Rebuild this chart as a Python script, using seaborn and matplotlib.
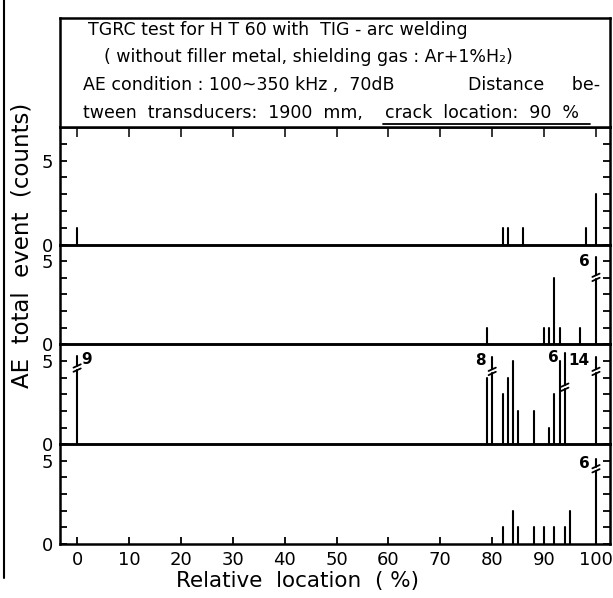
import matplotlib
matplotlib.use("Agg")
import matplotlib.pyplot as plt
import numpy as np
import pandas as pd
import seaborn as sns

# ---------------- data ----------------
loc_1 = [0, 82, 83, 86, 98, 100]
cnt_1 = [1, 1, 1, 1, 1, 3]
loc_2 = [79, 90, 91, 92, 93, 97, 100]
cnt_2 = [1, 1, 1, 4, 1, 1, 6]
loc_3 = [0, 79, 80, 82, 83, 84, 85, 88, 91, 92, 93, 94, 100]
cnt_3 = [9, 4, 8, 3, 4, 5, 2, 2, 1, 3, 5, 6, 14]
loc_4 = [82, 84, 85, 88, 90, 92, 94, 95, 100]
cnt_4 = [1, 2, 1, 1, 1, 1, 1, 2, 6]

x_ticks = [0, 10, 20, 30, 40, 50, 60, 70, 80, 90, 100]
y_major = [0, 5]

title_1 = "TGRC test for H T 60 with  TIG - arc welding"
title_2 = "( without filler metal, shielding gas : Ar+1%H₂)"
title_3a = "AE condition : 100~350 kHz ,  70dB"
title_3b = "Distance     be-"
title_4a = "tween  transducers:  1900  mm, "
title_4b = "crack  location:  90  %"
x_label = "Relative  location  ( %)"
y_label = "AE  total  event  (counts)"

# --------------- style ----------------
sns.set_theme(style="ticks")
plt.rcParams['font.family'] = ['DejaVu Sans']
plt.rcParams['text.color'] = 'black'

W, H = 613, 598
fig = plt.figure(figsize=(W / 100, H / 100), dpi=100)

def fx(px):
    return px / W

def fy(py):
    return 1 - py / H

left_px, right_px = 60, 610
panel_px = [(127, 244.5), (244.5, 344.3), (344.3, 444.3), (444.3, 543.7)]
ylims = [7.0, 5.9, 5.9, 5.9]
panels = [(loc_1, cnt_1), (loc_2, cnt_2), (loc_3, cnt_3), (loc_4, cnt_4)]

# break styling for counts exceeding the panel: (break level, top, label side)
break_style = {
    (1, 100): (3.9, 5.25, 'l'),
    (2, 0): (4.45, 5.3, 'r'),
    (2, 80): (4.25, 5.25, 'l'),
    (2, 94): (3.3, 5.45, 'l'),
    (2, 100): (4.25, 5.25, 'l'),
    (3, 100): (4.4, 5.1, 'l'),
}
gap = 0.25
XMIN, XMAX = -3.3, 102.7

for i, ((locs, cnts), (t, b)) in enumerate(zip(panels, panel_px)):
    ax = fig.add_axes([fx(left_px), fy(b), fx(right_px - left_px), (b - t) / H])
    rows = []
    seg = 0
    breaks = []
    for x, c in zip(locs, cnts):
        if c > 5:
            lvl, top, side = break_style.get((i, x), (4.3, 5.25, 'l'))
            rows += [dict(x=x, y=0, u=seg), dict(x=x, y=lvl, u=seg)]
            seg += 1
            rows += [dict(x=x, y=lvl + gap, u=seg), dict(x=x, y=top, u=seg)]
            seg += 1
            breaks.append((x, c, lvl, top, side))
        else:
            rows += [dict(x=x, y=0, u=seg), dict(x=x, y=c, u=seg)]
            seg += 1
    df = pd.DataFrame(rows)
    sns.lineplot(data=df, x='x', y='y', units='u', estimator=None, sort=False,
                 color='black', lw=1.5, ax=ax, legend=False)
    for x, c, lvl, top, side in breaks:
        for yb in (lvl, lvl + gap):
            ax.plot([x - 0.7, x + 0.7], [yb - 0.1, yb + 0.1], color='black', lw=1.3)
        if side == 'l':
            ax.text(x - 1.2, top - 0.25, str(c), ha='right', va='center', fontsize=11,
                    fontweight='bold')
        else:
            ax.text(x + 0.7, top - 0.2, str(c), ha='left', va='center', fontsize=11,
                    fontweight='bold')

    ax.set_xlim(XMIN, XMAX)
    ax.set_ylim(0, ylims[i])
    ax.set_xlabel('')
    ax.set_ylabel('')
    ax.set_yticks(y_major)
    ax.set_yticks(range(0, 7), minor=True)
    ax.set_yticklabels([str(v) for v in y_major])
    ax.tick_params(axis='y', which='both', direction='in', left=True, right=True,
                   length=5, width=1.3, labelsize=13, pad=5, colors='black')
    for s in ax.spines.values():
        s.set_visible(True)
        s.set_linewidth(1.8)
        s.set_color('black')
    if i == 0:
        ax.set_xticks(x_ticks)
        ax.tick_params(axis='x', which='both', direction='in', top=True, bottom=False,
                       labeltop=False, labelbottom=False, length=7, width=1.3)
    elif i == 3:
        ax.set_xticks(x_ticks)
        ax.set_xticklabels([str(v) for v in x_ticks])
        ax.tick_params(axis='x', which='both', direction='in', top=False, bottom=True,
                       labelsize=13, length=5, width=1.3, pad=5, colors='black')
    else:
        ax.set_xticks([])
    ax.patch.set_alpha(0)

# text box
axb = fig.add_axes([fx(left_px), fy(127), fx(right_px - left_px), (127 - 18) / H])
axb.set_xticks([])
axb.set_yticks([])
for s in axb.spines.values():
    s.set_linewidth(1.8)
    s.set_color('black')
fs = 12.5
fig.text(fx(88), fy(30), title_1, ha='left', va='center', fontsize=fs)
fig.text(fx(104), fy(57), title_2, ha='left', va='center', fontsize=fs)
fig.text(fx(83), fy(85), title_3a, ha='left', va='center', fontsize=fs)
fig.text(fx(600), fy(85), title_3b, ha='right', va='center', fontsize=fs)
fig.text(fx(83), fy(113), title_4a, ha='left', va='center', fontsize=fs)
fig.text(fx(385), fy(113), title_4b, ha='left', va='center', fontsize=fs)
fig.add_artist(plt.Line2D([fx(383), fx(590)], [fy(124), fy(124)], color='black', lw=1.3))

# axis labels
fig.text(fx(297), fy(571), x_label, ha='center', va='top', fontsize=15.5)
fig.text(fx(22), fy(245), y_label, ha='center', va='center', rotation=90, fontsize=16.5)

# clipped neighbouring frame at the left edge
fig.add_artist(plt.Line2D([fx(4), fx(4)], [fy(0), fy(578)], color='black', lw=1.5))

fig.savefig("out.png", dpi=100)
